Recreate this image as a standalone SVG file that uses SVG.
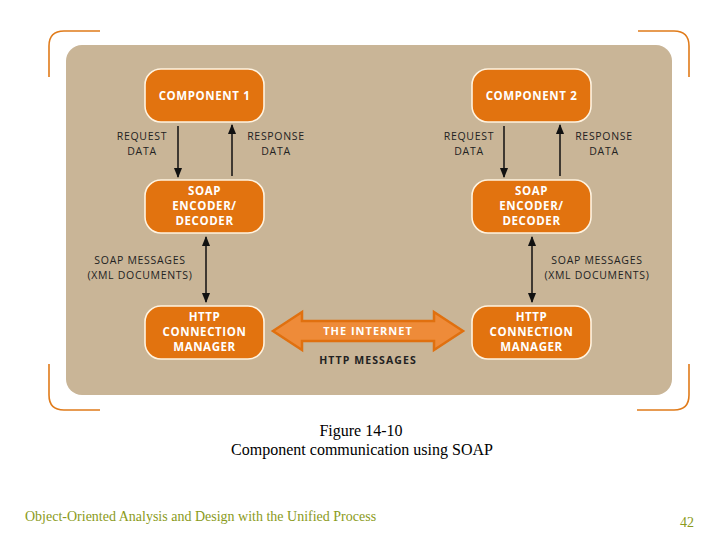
<svg xmlns="http://www.w3.org/2000/svg" width="720" height="540" viewBox="0 0 720 540">
<defs>
<style>
.node rect{fill:#e2730f;stroke:#fff3e0;stroke-width:1.6}
.nt{font-family:"Open Sans","Noto Sans",sans-serif;font-weight:bold;font-size:11.5px;fill:#fff;text-anchor:middle;letter-spacing:0.6px}
.lb{font-family:"Open Sans","Noto Sans",sans-serif;font-size:10.5px;fill:#222;text-anchor:middle;letter-spacing:0.7px}
.conn line{stroke:#111;stroke-width:1.5}
.brk{fill:none;stroke:#e07b1a;stroke-width:1.6}
.cap{font-family:"Liberation Serif",serif;font-size:16px;fill:#000;text-anchor:middle}
</style>
<marker id="ah" viewBox="0 0 10 10" refX="9" refY="5" markerWidth="7" markerHeight="7" orient="auto-start-reverse"><path d="M0,1 L10,5 L0,9 z" fill="#111"/></marker>
</defs>
<rect width="720" height="540" fill="#fff"/>
<path class="brk" d="M100,31 H64 Q49,31 49,46 V77"/>
<path class="brk" d="M638,31 H674 Q689,31 689,46 V77"/>
<path class="brk" d="M49,364 V395 Q49,410 64,410 H100"/>
<path class="brk" d="M689,364 V395 Q689,410 674,410 H637"/>
<rect x="66" y="45" width="606" height="350" rx="16" fill="#c9b597"/>
<g id="component1" class="node"><rect x="145" y="69" width="119" height="53" rx="16"/><text class="nt" x="204.5" y="100">COMPONENT 1</text></g>
<g id="encoder1" class="node"><rect x="145" y="180" width="119" height="53" rx="16"/><text class="nt" x="204.5" y="195">SOAP</text><text class="nt" x="204.5" y="210">ENCODER/</text><text class="nt" x="204.5" y="225">DECODER</text></g>
<g id="http1" class="node"><rect x="145" y="306" width="119" height="53" rx="16"/><text class="nt" x="204.5" y="321">HTTP</text><text class="nt" x="204.5" y="336">CONNECTION</text><text class="nt" x="204.5" y="351">MANAGER</text></g>
<g id="component2" class="node"><rect x="472" y="69" width="119" height="53" rx="16"/><text class="nt" x="531.5" y="100">COMPONENT 2</text></g>
<g id="encoder2" class="node"><rect x="472" y="180" width="119" height="53" rx="16"/><text class="nt" x="531.5" y="195">SOAP</text><text class="nt" x="531.5" y="210">ENCODER/</text><text class="nt" x="531.5" y="225">DECODER</text></g>
<g id="http2" class="node"><rect x="472" y="306" width="119" height="53" rx="16"/><text class="nt" x="531.5" y="321">HTTP</text><text class="nt" x="531.5" y="336">CONNECTION</text><text class="nt" x="531.5" y="351">MANAGER</text></g>
<g id="internet">
<path d="M273,331 L302,312 V321 H434 V312 L463,331 L434,350 V341 H302 V350 Z" fill="#ee8b39" stroke="#e0700f" stroke-width="2.5" stroke-linejoin="miter"/>
<text class="nt" x="368" y="335" style="font-size:11px;letter-spacing:1px">THE INTERNET</text>
<text class="lb" x="368" y="364" style="font-weight:bold;letter-spacing:1.1px">HTTP MESSAGES</text>
</g>
<g id="connectors" class="conn">
<line x1="178" y1="126" x2="178" y2="177" marker-end="url(#ah)"/>
<line x1="232" y1="176" x2="232" y2="125" marker-end="url(#ah)"/>
<line x1="206" y1="237" x2="206" y2="302" marker-start="url(#ah)" marker-end="url(#ah)"/>
<line x1="504" y1="126" x2="504" y2="177" marker-end="url(#ah)"/>
<line x1="560" y1="176" x2="560" y2="125" marker-end="url(#ah)"/>
<line x1="532" y1="237" x2="532" y2="302" marker-start="url(#ah)" marker-end="url(#ah)"/>
</g>
<g id="labels">
<text class="lb" x="142" y="140">REQUEST</text><text class="lb" x="142" y="155">DATA</text>
<text class="lb" x="276" y="140">RESPONSE</text><text class="lb" x="276" y="155">DATA</text>
<text class="lb" x="469" y="140">REQUEST</text><text class="lb" x="469" y="155">DATA</text>
<text class="lb" x="604" y="140">RESPONSE</text><text class="lb" x="604" y="155">DATA</text>
<text class="lb" x="140" y="264">SOAP MESSAGES</text><text class="lb" x="140" y="279">(XML DOCUMENTS)</text>
<text class="lb" x="597" y="264">SOAP MESSAGES</text><text class="lb" x="597" y="279">(XML DOCUMENTS)</text>
</g>
<text class="cap" x="361" y="436">Figure 14-10</text>
<text class="cap" x="362" y="455">Component communication using SOAP</text>
<text x="25" y="521" font-family="Liberation Serif,serif" font-size="14" fill="#8a9a20">Object-Oriented Analysis and Design with the Unified Process</text>
<text x="680" y="527" font-family="Liberation Serif,serif" font-size="14" fill="#8a9a20">42</text>
</svg>
